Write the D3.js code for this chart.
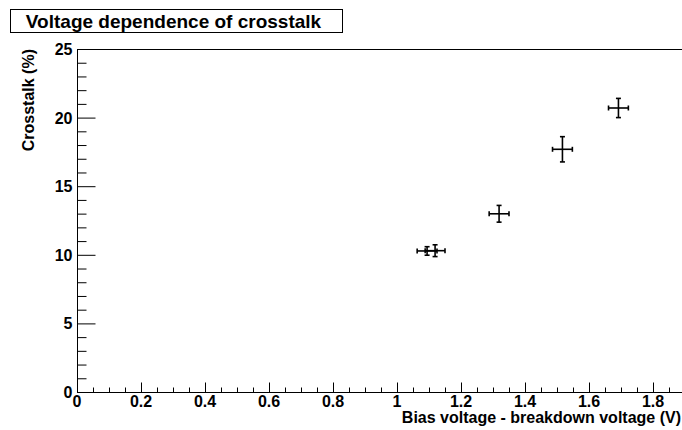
<!DOCTYPE html>
<html>
<head>
<meta charset="utf-8">
<script src="https://cdn.jsdelivr.net/npm/d3@7"></script>
<style>
  html, body { margin: 0; padding: 0; background: #fff; }
  svg { display: block; font-family: "Liberation Sans", Arial, Helvetica, sans-serif; font-weight: bold; }
</style>
</head>
<body>
<svg id="chart" width="682" height="430"></svg>
<script>
// Crosstalk measurements vs. overvoltage
const biasOver   = [1.094, 1.119, 1.319, 1.517, 1.692];   // V above breakdown
const biasErr    = [0.031, 0.031, 0.031, 0.031, 0.031];
const crosstalk  = [10.28, 10.30, 12.99, 17.69, 20.70];   // %
const xtalkErr   = [0.31, 0.43, 0.61, 0.92, 0.70];

const xTicks = [0, 0.2, 0.4, 0.6, 0.8, 1.0, 1.2, 1.4, 1.6, 1.8];
const yTicks = [0, 5, 10, 15, 20, 25];

const titleText = "Voltage dependence of crosstalk";
const xTitle = "Bias voltage - breakdown voltage (V)";
const yTitle = "Crosstalk (%)";

const svg = d3.select("#chart");
const frame = { left: 77, top: 49, right: 685, bottom: 392 };

const x = d3.scaleLinear().domain([0, 1.9]).range([frame.left, frame.right]);
const y = d3.scaleLinear().domain([0, 25]).range([frame.bottom, frame.top]);

// Frame
svg.append("rect")
  .attr("x", frame.left + 0.5).attr("y", frame.top + 0.5)
  .attr("width", frame.right - frame.left).attr("height", frame.bottom - frame.top)
  .attr("fill", "none").attr("stroke", "#000").attr("stroke-width", 1);

// X axis: major every 0.2, minor every 0.05
const xAxisG = svg.append("g").attr("transform", `translate(0,${frame.bottom + 0.5})`);
const xMinor = d3.range(0, 1.9001, 0.05).filter(v => Math.abs(v / 0.2 - Math.round(v / 0.2)) > 1e-6);
xAxisG.append("g")
  .call(d3.axisTop(x).tickValues(xMinor).tickSize(5).tickFormat(""))
  .call(g => g.select(".domain").remove());
xAxisG.append("g")
  .call(d3.axisTop(x).tickValues(xTicks).tickSize(10).tickFormat(""))
  .call(g => g.select(".domain").remove());
xAxisG.selectAll("line").attr("stroke", "#000").attr("stroke-width", 1);
xAxisG.append("g").selectAll("text").data(xTicks).join("text")
  .attr("x", d => x(d)).attr("y", 14)
  .attr("text-anchor", "middle").attr("font-size", 16)
  .text(d => d3.format("~g")(d));

// Y axis: major every 5, minor every 1
const yAxisG = svg.append("g").attr("transform", `translate(${frame.left + 0.5},0)`);
const yMinor = d3.range(0, 25.001, 1).filter(v => v % 5 !== 0);
yAxisG.append("g")
  .call(d3.axisRight(y).tickValues(yMinor).tickSize(9).tickFormat(""))
  .call(g => g.select(".domain").remove());
yAxisG.append("g")
  .call(d3.axisRight(y).tickValues(yTicks).tickSize(18).tickFormat(""))
  .call(g => g.select(".domain").remove());
yAxisG.selectAll("line").attr("stroke", "#000").attr("stroke-width", 1);
yAxisG.append("g").selectAll("text").data(yTicks).join("text")
  .attr("x", -5).attr("y", d => y(d) + 6)
  .attr("text-anchor", "end").attr("font-size", 16)
  .text(d => d);

// Axis titles
svg.append("text")
  .attr("x", 681).attr("y", 423)
  .attr("text-anchor", "end").attr("font-size", 16)
  .text(xTitle);
svg.append("text")
  .attr("transform", `translate(34,${frame.top}) rotate(-90)`)
  .attr("text-anchor", "end").attr("font-size", 16)
  .text(yTitle);

// Title box
svg.append("rect")
  .attr("x", 10.5).attr("y", 9.5).attr("width", 332).attr("height", 23)
  .attr("fill", "#fff").attr("stroke", "#000").attr("stroke-width", 1);
svg.append("text")
  .attr("x", 173.5).attr("y", 28)
  .attr("text-anchor", "middle").attr("font-size", 19)
  .text(titleText);

// Data points with error bars
const pts = biasOver.map((v, i) => ({ x: v, ex: biasErr[i], y: crosstalk[i], ey: xtalkErr[i] }));
const cap = 2.5;
const pg = svg.append("g").attr("stroke", "#000").attr("stroke-width", 1.6).attr("fill", "none");
pts.forEach(p => {
  const cx = x(p.x), cy = y(p.y);
  const x0 = x(p.x - p.ex), x1 = x(p.x + p.ex);
  const y0 = y(p.y - p.ey), y1 = y(p.y + p.ey);
  pg.append("line").attr("x1", x0).attr("x2", x1).attr("y1", cy).attr("y2", cy);
  pg.append("line").attr("x1", cx).attr("x2", cx).attr("y1", y0).attr("y2", y1);
  pg.append("line").attr("x1", x0).attr("x2", x0).attr("y1", cy - cap).attr("y2", cy + cap);
  pg.append("line").attr("x1", x1).attr("x2", x1).attr("y1", cy - cap).attr("y2", cy + cap);
  pg.append("line").attr("x1", cx - cap).attr("x2", cx + cap).attr("y1", y0).attr("y2", y0);
  pg.append("line").attr("x1", cx - cap).attr("x2", cx + cap).attr("y1", y1).attr("y2", y1);
});
</script>
</body>
</html>
